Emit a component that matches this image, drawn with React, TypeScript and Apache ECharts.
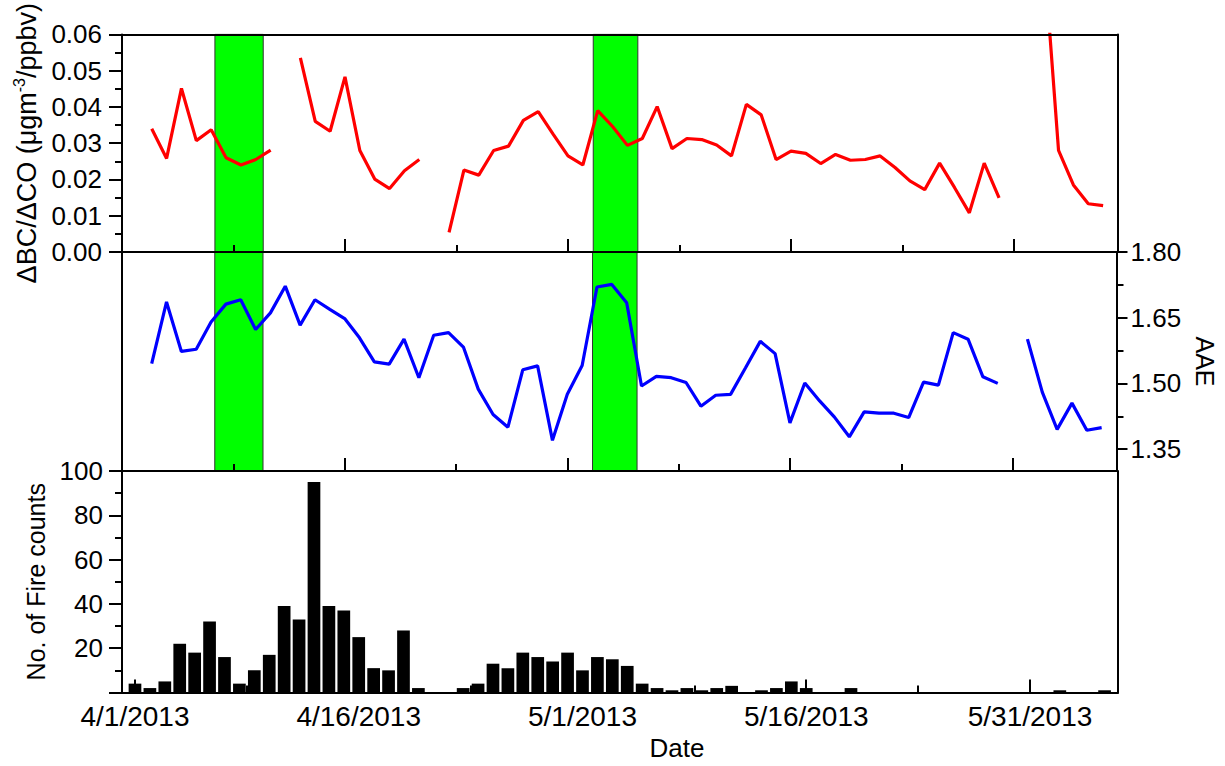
import React, { useEffect, useRef } from 'react';
import * as echarts from 'echarts';

const FONT = '"Liberation Sans", Arial, Helvetica, sans-serif';

// Day offsets from 4/1/2013 (0 = 4/1/2013 ... 66 = 6/6/2013)
const days: number[] = Array.from({ length: 67 }, (_, i) => i);

// ΔBC/ΔCO (μg m-3 / ppbv), one value per day, null = no data
const bcCoRatio: (number | null)[] = [
  null, null, 0.034, 0.0258, 0.0451, 0.0307, 0.0337, 0.026, 0.024, 0.0255,
  0.0281, null, 0.0535, 0.036, 0.0333, 0.0483, 0.028, 0.0201, 0.0175, 0.0224,
  0.0255, null, 0.0054, 0.0226, 0.0212, 0.028, 0.0292, 0.0363, 0.0387, 0.0325,
  0.0265, 0.024, 0.039, 0.0346, 0.0294, 0.0313, 0.0401, 0.0285, 0.0313, 0.031,
  0.0295, 0.0265, 0.0407, 0.0378, 0.0255, 0.0278, 0.0272, 0.0244, 0.0269, 0.0253,
  0.0255, 0.0265, 0.0233, 0.0196, 0.0172, 0.0245, 0.0178, 0.0108, 0.0245, 0.0149,
  null, null, 0.083, 0.028, 0.0185, 0.0133, 0.0128,
];

// AAE, one value per day
const aae: (number | null)[] = [
  null, null, 1.545, 1.686, 1.573, 1.578, 1.64, 1.681, 1.691, 1.623,
  1.661, 1.722, 1.633, 1.691, 1.669, 1.648, 1.604, 1.549, 1.544, 1.601,
  1.513, 1.61, 1.616, 1.583, 1.487, 1.429, 1.4, 1.531, 1.54, 1.37,
  1.475, 1.541, 1.72, 1.726, 1.684, 1.494, 1.516, 1.513, 1.502, 1.448,
  1.473, 1.475, 1.535, 1.596, 1.568, 1.41, 1.501, 1.46, 1.423, 1.378,
  1.435, 1.432, 1.432, 1.422, 1.503, 1.496, 1.616, 1.601, 1.515, 1.5,
  null, 1.601, 1.48, 1.395, 1.455, 1.393, 1.399,
];

// Daily fire counts
const fireCounts: number[] = [
  4, 2, 5, 22, 18, 32, 16, 4, 10, 17,
  39, 33, 95, 39, 37, 25, 11, 10, 28, 2,
  0, 0, 2, 4, 13, 11, 18, 16, 14, 18,
  10, 16, 15, 12, 4, 2, 1, 2, 1, 2,
  3, 0, 1, 2, 5, 2, 0, 0, 2, 0,
  0, 0, 0, 0, 0, 0, 0, 0, 0, 0,
  0, 0, 1, 0, 0, 1, 0,
];

const xTickDays = [0, 15, 30, 45, 60];
const xTickLabels = ['4/1/2013', '4/16/2013', '5/1/2013', '5/16/2013', '5/31/2013'];
const xMinorDays = [7.5, 22.5, 37.5, 52.5];
const aaeTicks = [1.35, 1.5, 1.65, 1.8];
const aaeMinorTicks = [1.425, 1.575, 1.725];
const greenBands: [number, number][] = [[6.25, 9.5], [31.7, 34.7]];

const topXRange = [0, 67];
const bottomXRange = [-0.87, 65.9];

export default function App() {
  const ref = useRef<HTMLDivElement>(null);

  useEffect(() => {
    document.body.style.margin = '0';
    if (!ref.current) return;
    const chart = echarts.init(ref.current, undefined, { renderer: 'svg' });

    const black = { color: '#000', width: 2 };
    const off = { show: false };
    const noLine = { show: false, onZero: false };
    const LABEL = 26;

    const xMajor = (gridIndex: number, range: number[], labels: boolean, extra: any = {}) => ({
      type: 'value', gridIndex, min: range[0], max: range[1], position: 'bottom', z: 10,
      axisLine: { show: true, onZero: false, lineStyle: black },
      axisTick: { show: true, inside: true, length: 13, lineStyle: black, customValues: xTickDays },
      axisLabel: labels
        ? {
            show: true, customValues: xTickDays, margin: 10, fontSize: 28, color: '#000', fontFamily: FONT,
            formatter: (v: number) => { const i = xTickDays.indexOf(Math.round(v)); return i >= 0 ? xTickLabels[i] : ''; },
          }
        : off,
      splitLine: off,
      ...extra,
    });
    const xMinor = (gridIndex: number, range: number[]) => ({
      type: 'value', gridIndex, min: range[0], max: range[1], position: 'bottom', z: 10,
      axisLine: noLine,
      axisTick: { show: true, inside: true, length: 7, lineStyle: black, customValues: xMinorDays },
      axisLabel: off, splitLine: off,
    });
    const border = (gridIndex: number, position: string) => ({
      type: 'value', gridIndex, position, z: 10, min: 0, max: 1,
      axisLine: { show: true, onZero: false, lineStyle: black },
      axisTick: off, axisLabel: off, splitLine: off,
    });

    const nameStyle = { fontSize: 25, color: '#000', fontFamily: FONT };

    const bandArea = {
      silent: true, label: off,
      itemStyle: { color: '#00FF00', opacity: 1, borderColor: '#333', borderWidth: 1 },
      data: greenBands.map(([a, b]) => [{ xAxis: a }, { xAxis: b }]),
    };

    const option: any = {
      animation: false,
      backgroundColor: '#fff',
      textStyle: { fontFamily: FONT },
      grid: [
        { left: 122, right: 107, top: 32, height: 220 },
        { left: 122, right: 107, top: 252, height: 219 },
        { left: 122, right: 107, top: 471, height: 221.5 },
      ],
      xAxis: [
        xMajor(0, topXRange, false),
        xMinor(0, topXRange),
        border(0, 'top'),
        xMajor(1, topXRange, false),
        xMinor(1, topXRange),
        xMajor(2, bottomXRange, true, {
          name: 'Date', nameLocation: 'middle', nameGap: 42,
          nameTextStyle: { ...nameStyle, fontSize: 26, padding: [0, 0, 0, 114] },
        }),
        xMinor(2, bottomXRange),
      ],
      yAxis: [
        {
          type: 'value', gridIndex: 0, position: 'left', min: 0, max: 0.06, interval: 0.01, z: 10,
          axisLine: { show: true, onZero: false, lineStyle: black },
          axisTick: { show: true, inside: false, length: 13, lineStyle: black },
          minorTick: { show: true, splitNumber: 2, length: 7, lineStyle: black },
          axisLabel: { show: true, margin: 20, fontSize: LABEL, color: '#000', fontFamily: FONT, formatter: (v: number) => v.toFixed(2) },
          splitLine: off, minorSplitLine: off,
          name: '{a|ΔBC/ΔCO (μgm}{s|-3}{a|/ppbv)}', nameLocation: 'middle', nameGap: 74,
          nameTextStyle: {
            ...nameStyle,
            rich: {
              a: { fontSize: 27, color: '#000', fontFamily: FONT },
              s: { fontSize: 16, color: '#000', fontFamily: FONT, padding: [0, 0, 15, 0] },
            },
          },
        },
        border(0, 'right'),
        border(1, 'left'),
        {
          type: 'value', gridIndex: 1, position: 'right', min: 1.3, max: 1.8, z: 10,
          axisLine: { show: true, onZero: false, lineStyle: black },
          axisTick: { show: true, inside: false, length: 11, lineStyle: black, customValues: aaeTicks },
          axisLabel: { show: true, customValues: aaeTicks, margin: 14, fontSize: LABEL, color: '#000', fontFamily: FONT, formatter: (v: number) => v.toFixed(2) },
          splitLine: off,
          name: 'AAE', nameLocation: 'middle', nameGap: 74, nameRotate: -90,
          nameTextStyle: nameStyle,
        },
        {
          type: 'value', gridIndex: 1, position: 'right', offset: 0, min: 1.3, max: 1.8, z: 10,
          axisLine: noLine,
          axisTick: { show: true, inside: false, length: 7, lineStyle: black, customValues: aaeMinorTicks },
          axisLabel: off, splitLine: off,
        },
        {
          type: 'value', gridIndex: 2, position: 'left', min: 0, max: 100, interval: 20, z: 10,
          axisLine: { show: true, onZero: false, lineStyle: black },
          axisTick: { show: true, inside: false, length: 13, lineStyle: black },
          minorTick: { show: true, splitNumber: 2, length: 7, lineStyle: black },
          axisLabel: { show: true, margin: 19, fontSize: LABEL, color: '#000', fontFamily: FONT, formatter: (v: number) => (v === 0 ? '' : String(v)) },
          splitLine: off, minorSplitLine: off,
          name: 'No. of Fire counts', nameLocation: 'middle', nameGap: 69,
          nameTextStyle: nameStyle,
        },
        border(2, 'right'),
      ],
      series: [
        {
          type: 'line', xAxisIndex: 0, yAxisIndex: 0, z: 1, silent: true,
          data: days.map((d) => [d, '-']),
          markArea: bandArea,
        },
        {
          type: 'line', xAxisIndex: 3, yAxisIndex: 3, z: 1, silent: true,
          data: days.map((d) => [d, '-']),
          markArea: bandArea,
        },
        {
          name: 'ΔBC/ΔCO', type: 'line', xAxisIndex: 0, yAxisIndex: 0, z: 5,
          symbol: 'none', connectNulls: false, clip: true,
          lineStyle: { color: '#FF0000', width: 3.2 },
          data: days.map((d, i) => [d, bcCoRatio[i] == null ? '-' : bcCoRatio[i]]),
        },
        {
          name: 'AAE', type: 'line', xAxisIndex: 3, yAxisIndex: 3, z: 5,
          symbol: 'none', connectNulls: false, clip: true,
          lineStyle: { color: '#0000FF', width: 3.2 },
          data: days.map((d, i) => [d, aae[i] == null ? '-' : aae[i]]),
        },
        {
          name: 'Fire counts', type: 'bar', xAxisIndex: 5, yAxisIndex: 5, z: 5,
          barWidth: 12.7,
          itemStyle: { color: '#000' },
          data: days.map((d, i) => [d, fireCounts[i]]),
        },
      ],
    };

    chart.setOption(option);
    return () => chart.dispose();
  }, []);

  return <div ref={ref} style={{ width: 1225, height: 766 }} />;
}
